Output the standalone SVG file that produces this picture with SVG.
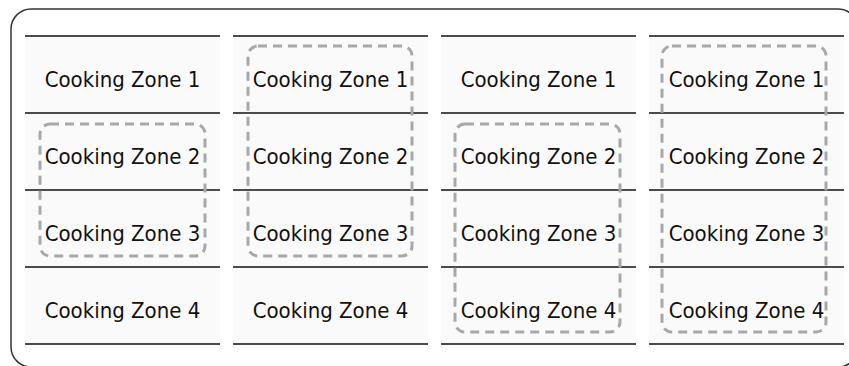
<svg xmlns="http://www.w3.org/2000/svg" width="849" height="366" viewBox="0 0 849 366">
<style>
.cell{fill:#fafafa;stroke:none}
.ln{stroke:#111;stroke-width:1.5}
.t{font-family:"DejaVu Sans Condensed","DejaVu Sans",sans-serif;font-stretch:condensed;font-size:22px;fill:#111;text-anchor:middle}
.sel{fill:none;stroke:#a8a8a8;stroke-width:3;stroke-dasharray:9 6}
</style>
<rect x="11" y="9" width="847" height="358" rx="20" fill="#fff" stroke="#333" stroke-width="1.5"/>
<g id="col1">
<rect class="cell" x="25" y="36" width="195" height="308"/>
<g class="ln"><line x1="25" y1="36" x2="220" y2="36"/><line x1="25" y1="113" x2="220" y2="113"/><line x1="25" y1="190" x2="220" y2="190"/><line x1="25" y1="267" x2="220" y2="267"/><line x1="25" y1="344" x2="220" y2="344"/></g>
<text class="t" x="122.5" y="87">Cooking Zone 1</text>
<text class="t" x="122.5" y="164">Cooking Zone 2</text>
<text class="t" x="122.5" y="241">Cooking Zone 3</text>
<text class="t" x="122.5" y="318">Cooking Zone 4</text>
</g>
<g id="col2">
<rect class="cell" x="233" y="36" width="195" height="308"/>
<g class="ln"><line x1="233" y1="36" x2="428" y2="36"/><line x1="233" y1="113" x2="428" y2="113"/><line x1="233" y1="190" x2="428" y2="190"/><line x1="233" y1="267" x2="428" y2="267"/><line x1="233" y1="344" x2="428" y2="344"/></g>
<text class="t" x="330.5" y="87">Cooking Zone 1</text>
<text class="t" x="330.5" y="164">Cooking Zone 2</text>
<text class="t" x="330.5" y="241">Cooking Zone 3</text>
<text class="t" x="330.5" y="318">Cooking Zone 4</text>
</g>
<g id="col3">
<rect class="cell" x="441" y="36" width="195" height="308"/>
<g class="ln"><line x1="441" y1="36" x2="636" y2="36"/><line x1="441" y1="113" x2="636" y2="113"/><line x1="441" y1="190" x2="636" y2="190"/><line x1="441" y1="267" x2="636" y2="267"/><line x1="441" y1="344" x2="636" y2="344"/></g>
<text class="t" x="538.5" y="87">Cooking Zone 1</text>
<text class="t" x="538.5" y="164">Cooking Zone 2</text>
<text class="t" x="538.5" y="241">Cooking Zone 3</text>
<text class="t" x="538.5" y="318">Cooking Zone 4</text>
</g>
<g id="col4">
<rect class="cell" x="649" y="36" width="195" height="308"/>
<g class="ln"><line x1="649" y1="36" x2="844" y2="36"/><line x1="649" y1="113" x2="844" y2="113"/><line x1="649" y1="190" x2="844" y2="190"/><line x1="649" y1="267" x2="844" y2="267"/><line x1="649" y1="344" x2="844" y2="344"/></g>
<text class="t" x="746.5" y="87">Cooking Zone 1</text>
<text class="t" x="746.5" y="164">Cooking Zone 2</text>
<text class="t" x="746.5" y="241">Cooking Zone 3</text>
<text class="t" x="746.5" y="318">Cooking Zone 4</text>
</g>
<g id="selections">
<rect class="sel" x="40" y="124" width="165" height="132" rx="10"/>
<rect class="sel" x="248" y="46" width="164" height="210" rx="10"/>
<rect class="sel" x="455" y="124" width="165" height="208" rx="10"/>
<rect class="sel" x="662" y="46" width="164" height="286" rx="10"/>
</g>
</svg>
